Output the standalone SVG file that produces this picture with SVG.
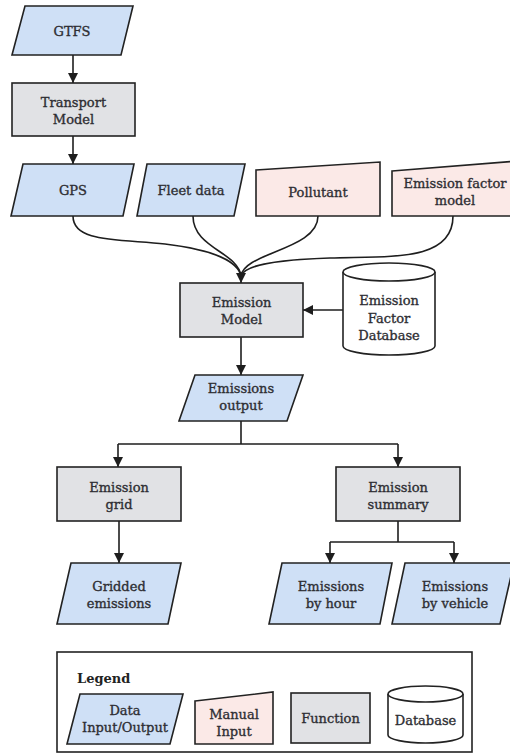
<svg xmlns="http://www.w3.org/2000/svg" width="510" height="755" viewBox="0 0 510 755">
<defs>
<style>
.data{fill:#cfe0f6;stroke:#222;stroke-width:1.6;stroke-linejoin:miter}
.man{fill:#fbe9e7;stroke:#222;stroke-width:1.6}
.fn{fill:#e1e2e5;stroke:#222;stroke-width:1.6}
.db{fill:#ffffff;stroke:#222;stroke-width:1.6}
.lg{fill:#ffffff;stroke:#222;stroke-width:1.6}
.t{font-family:"DejaVu Serif",serif;font-size:13px;fill:#2e2e33;stroke:#2e2e33;stroke-width:0.35;text-anchor:middle;dominant-baseline:central}
.ttl{font-family:"DejaVu Serif",serif;font-size:13px;font-weight:bold;fill:#222;dominant-baseline:central}
.c{fill:none;stroke:#1e1e1e;stroke-width:1.6}
</style>
<marker id="ah" markerUnits="userSpaceOnUse" markerWidth="10" markerHeight="11" refX="10" refY="5" orient="auto" viewBox="0 0 10 10">
<path d="M0,0 L10,5 L0,10 Z" fill="#1e1e1e"/>
</marker>
</defs>
<rect width="510" height="755" fill="#ffffff"/>

<g id="connectors">
<path class="c" d="M73,55 V83" marker-end="url(#ah)"/>
<path class="c" d="M73,136 V164" marker-end="url(#ah)"/>
<path class="c" d="M73,216 C73,242 115,239 165,244 C215,250 238,262 241,276"/>
<path class="c" d="M193,216 C193,248 238,252 241,276"/>
<path class="c" d="M318,216 C318,250 244,252 241,276"/>
<path class="c" d="M453,216 C453,262 390,256 330,258 C270,260 244,266 241,276"/>
<path class="c" d="M241,272 V283" marker-end="url(#ah)"/>
<path class="c" d="M343,310 H303" marker-end="url(#ah)"/>
<path class="c" d="M241,337 V375" marker-end="url(#ah)"/>
<path class="c" d="M241,421 V444 M118,444 H398"/>
<path class="c" d="M118,444 V467" marker-end="url(#ah)"/>
<path class="c" d="M398,444 V467" marker-end="url(#ah)"/>
<path class="c" d="M119,521 V563" marker-end="url(#ah)"/>
<path class="c" d="M398,521 V542 M330,542 H454"/>
<path class="c" d="M330,542 V563" marker-end="url(#ah)"/>
<path class="c" d="M454,542 V563" marker-end="url(#ah)"/>
</g>

<g id="gtfs">
<polygon class="data" points="25,6 133,6 121,55 12,55"/>
<text class="t" x="72" y="31">GTFS</text>
</g>
<g id="transport-model">
<rect class="fn" x="12" y="83" width="123" height="53"/>
<text class="t" x="73.5" y="102">Transport</text>
<text class="t" x="73.5" y="119">Model</text>
</g>
<g id="gps">
<polygon class="data" points="23,164 134,164 123,216 11,216"/>
<text class="t" x="73" y="190">GPS</text>
</g>
<g id="fleet-data">
<polygon class="data" points="147,164 245,164 234,216 137,216"/>
<text class="t" x="191" y="190">Fleet data</text>
</g>
<g id="pollutant">
<polygon class="man" points="256,170 380,162 380,216 256,216"/>
<text class="t" x="318" y="192">Pollutant</text>
</g>
<g id="emission-factor-model">
<polygon class="man" points="392,171 518,161 518,216 392,216"/>
<text class="t" x="455" y="183">Emission factor</text>
<text class="t" x="455" y="200">model</text>
</g>
<g id="emission-model">
<rect class="fn" x="180" y="283" width="123" height="54"/>
<text class="t" x="241.5" y="302">Emission</text>
<text class="t" x="241.5" y="319">Model</text>
</g>
<g id="emission-factor-database">
<path class="db" d="M343,272 A46,9 0 0 1 435,272 L435,346 A46,9 0 0 1 343,346 Z"/>
<path class="db" d="M343,272 A46,9 0 0 0 435,272"/>
<text class="t" x="389" y="300">Emission</text>
<text class="t" x="389" y="318">Factor</text>
<text class="t" x="389" y="335">Database</text>
</g>
<g id="emissions-output">
<polygon class="data" points="195,375 303,375 287,421 179,421"/>
<text class="t" x="241" y="388">Emissions</text>
<text class="t" x="241" y="405">output</text>
</g>
<g id="emission-grid">
<rect class="fn" x="57" y="467" width="124" height="54"/>
<text class="t" x="119" y="487">Emission</text>
<text class="t" x="119" y="504">grid</text>
</g>
<g id="emission-summary">
<rect class="fn" x="336" y="467" width="124" height="54"/>
<text class="t" x="398" y="487">Emission</text>
<text class="t" x="398" y="504">summary</text>
</g>
<g id="gridded-emissions">
<polygon class="data" points="71,563 181,563 168,624 57,624"/>
<text class="t" x="119" y="586">Gridded</text>
<text class="t" x="119" y="603">emissions</text>
</g>
<g id="emissions-by-hour">
<polygon class="data" points="282,563 392,563 380,624 269,624"/>
<text class="t" x="331" y="586">Emissions</text>
<text class="t" x="331" y="603">by hour</text>
</g>
<g id="emissions-by-vehicle">
<polygon class="data" points="405,563 514,563 500,624 392,624"/>
<text class="t" x="455" y="586">Emissions</text>
<text class="t" x="455" y="603">by vehicle</text>
</g>

<g id="legend">
<rect class="lg" x="57" y="652" width="415" height="100"/>
<text class="ttl" x="77" y="678">Legend</text>
<polygon class="data" points="80,694 183,694 170,744 67,744"/>
<text class="t" x="125" y="710">Data</text>
<text class="t" x="125" y="727">Input/Output</text>
<polygon class="man" points="195,701 273,692 273,744 195,744"/>
<text class="t" x="234" y="714">Manual</text>
<text class="t" x="234" y="731">Input</text>
<rect class="fn" x="291" y="693" width="79" height="50"/>
<text class="t" x="330.5" y="718">Function</text>
<path class="db" d="M388,694 A37.5,8 0 0 1 463,694 L463,735 A37.5,8 0 0 1 388,735 Z"/>
<path class="db" d="M388,694 A37.5,8 0 0 0 463,694"/>
<text class="t" x="425.5" y="720">Database</text>
</g>
</svg>
